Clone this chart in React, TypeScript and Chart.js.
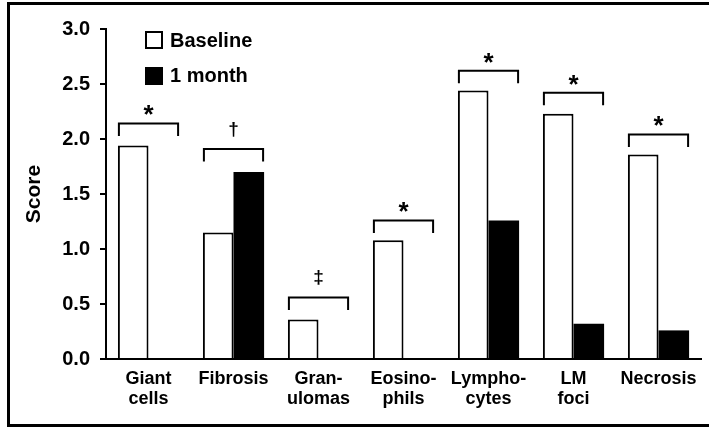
import React, { useEffect, useRef } from "react";
import { Chart, registerables } from "chart.js";

Chart.register(...registerables);

const categories: string[][] = [
  ["Giant", "cells"],
  ["Fibrosis"],
  ["Gran-", "ulomas"],
  ["Eosino-", "phils"],
  ["Lympho-", "cytes"],
  ["LM", "foci"],
  ["Necrosis"],
];
const baselineValues = [1.94, 1.15, 0.36, 1.08, 2.44, 2.23, 1.86];
const oneMonthValues = [0, 1.7, 0, 0, 1.26, 0.32, 0.26];
const bracketLevels = [2.14, 1.91, 0.56, 1.26, 2.62, 2.42, 2.04];
const significanceMarks = ["*", "\u2020", "\u2021", "*", "*", "*", "*"];
const yTickLabels = ["0.0", "0.5", "1.0", "1.5", "2.0", "2.5", "3.0"];
const seriesNames = ["Baseline", "1 month"];

const FONT = '"Liberation Sans", Arial, sans-serif';

const framePlugin = {
  id: "frameAndLegend",
  afterDraw(chart: any) {
    const ctx = chart.ctx;
    ctx.save();
    ctx.fillStyle = "#000";
    // frame
    ctx.fillRect(7, 2, 702, 3);
    ctx.fillRect(7, 2, 3, 425);
    ctx.fillRect(7, 424, 702, 3);
    // legend
    ctx.lineWidth = 2;
    ctx.strokeStyle = "#000";
    ctx.fillStyle = "#fff";
    ctx.fillRect(146, 32, 16, 16);
    ctx.strokeRect(146, 32, 16, 16);
    ctx.fillStyle = "#000";
    ctx.fillRect(145, 67, 18, 18);
    ctx.font = "bold 20px " + FONT;
    ctx.textBaseline = "middle";
    ctx.textAlign = "left";
    ctx.fillText(seriesNames[0], 170, 41.4);
    ctx.fillText(seriesNames[1], 170, 76.4);
    ctx.restore();
  },
};

const bracketPlugin = {
  id: "brackets",
  afterDatasetsDraw(chart: any) {
    const ctx = chart.ctx;
    const yScale = chart.scales.y;
    const m0 = chart.getDatasetMeta(0);
    const m1 = chart.getDatasetMeta(1);
    ctx.save();
    ctx.strokeStyle = "#000";
    ctx.fillStyle = "#000";
    ctx.lineWidth = 2;
    ctx.lineJoin = "miter";
    bracketLevels.forEach((lvl, i) => {
      const b0 = m0.data[i];
      const b1 = m1.data[i];
      const left = b0.x - b0.width / 2 + 1;
      const right = b1.x + b1.width / 2 - 1;
      const y = yScale.getPixelForValue(lvl);
      ctx.beginPath();
      ctx.moveTo(left, y + 12.5);
      ctx.lineTo(left, y);
      ctx.lineTo(right, y);
      ctx.lineTo(right, y + 12.5);
      ctx.stroke();
      const mark = significanceMarks[i];
      const isStar = mark === "*";
      ctx.font = "bold " + (isStar ? 26 : 19) + "px " + FONT;
      ctx.textAlign = "center";
      ctx.textBaseline = "alphabetic";
      const mt = ctx.measureText(mark);
      const asc = mt.actualBoundingBoxAscent;
      const desc = mt.actualBoundingBoxDescent;
      const center = y - (isStar ? 13.3 : 19.5);
      const baseY = center + (asc - desc) / 2;
      ctx.fillText(mark, (left + right) / 2, baseY);
    });
    ctx.restore();
  },
};

export default function App() {
  const ref = useRef<HTMLCanvasElement | null>(null);
  useEffect(() => {
    document.body.style.margin = "0";
    const canvas = ref.current;
    if (!canvas) return;
    const chart = new Chart(canvas, {
      type: "bar",
      data: {
        labels: categories,
        datasets: [
          {
            label: seriesNames[0],
            data: baselineValues,
            backgroundColor: "#ffffff",
            borderColor: "#000000",
            borderWidth: 2,
            categoryPercentage: 0.72,
            barPercentage: 1.0,
          },
          {
            label: seriesNames[1],
            data: oneMonthValues,
            backgroundColor: "#000000",
            borderColor: "#000000",
            borderWidth: 0,
            categoryPercentage: 0.72,
            barPercentage: 1.0,
          },
        ],
      },
      options: {
        responsive: false,
        animation: false,
        devicePixelRatio: 1,
        layout: { padding: { left: 10, top: 29, right: 8, bottom: 0 } },
        plugins: {
          legend: { display: false },
          tooltip: { enabled: false },
        },
        scales: {
          x: {
            grid: { display: false, drawTicks: false, tickLength: 0 },
            border: { display: true, color: "#000", width: 2 },
            ticks: {
              color: "#000",
              font: { family: FONT, size: 18, weight: "bold", lineHeight: 1.12 },
              padding: 10,
              maxRotation: 0,
              autoSkip: false,
            },
            afterFit: (s: any) => {
              s.height = 69;
            },
          },
          y: {
            min: 0,
            max: 3,
            grid: {
              display: true,
              drawOnChartArea: false,
              drawTicks: true,
              tickLength: 6,
              color: "#000",
              lineWidth: 2,
            },
            border: { display: true, color: "#000", width: 2 },
            ticks: {
              stepSize: 0.5,
              color: "#000",
              padding: 10,
              font: { family: FONT, size: 20, weight: "bold" },
              callback: (_v: any, idx: number) => yTickLabels[idx],
            },
            title: {
              display: true,
              text: "Score",
              color: "#000",
              font: { family: FONT, size: 21, weight: "bold", lineHeight: 1.2 },
              padding: { top: 12, bottom: 0 },
            },
            afterFit: (s: any) => {
              s.width = 96;
            },
          },
        },
      },
      plugins: [bracketPlugin, framePlugin],
    } as any);
    return () => chart.destroy();
  }, []);
  return (
    <div style={{ width: 709, height: 428, background: "#fff" }}>
      <canvas ref={ref} width={709} height={428} style={{ display: "block" }} />
    </div>
  );
}
